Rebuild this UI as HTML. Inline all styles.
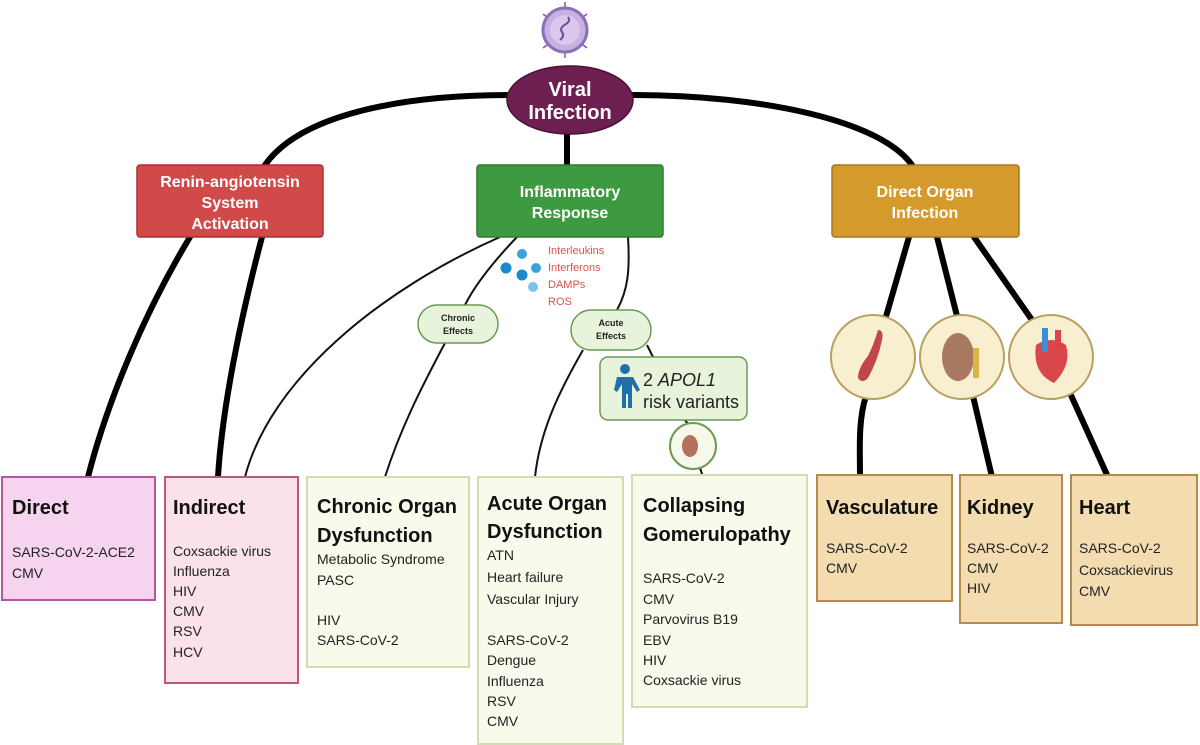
<!DOCTYPE html>
<html><head><meta charset="utf-8"><style>
html,body{margin:0;padding:0;background:#fff;width:1200px;height:745px;overflow:hidden}
svg{display:block}
text{font-family:"Liberation Sans",sans-serif}
.t{font-size:20px;font-weight:bold;fill:#111}
.c{font-size:14px;fill:#222}
.w{font-size:16px;font-weight:bold;fill:#fff}
</style></head><body>
<svg width="1200" height="745" viewBox="0 0 1200 745" xmlns="http://www.w3.org/2000/svg">
<!-- thick connectors -->
<g fill="none" stroke="#000" stroke-width="6" stroke-linecap="round">
<path d="M510 95 C400 95 300 115 265 165"/>
<path d="M632 95 C760 95 880 120 912 165"/>
<path d="M567 130 L567 165"/>
<path d="M190 237 C140 320 105 410 88 477"/>
<path d="M262 237 C240 320 222 410 218 477"/>
<path d="M909 237 L885 320"/>
<path d="M937 237 L958 320"/>
<path d="M974 237 L1032 320"/>
<path d="M866 396 C858 420 860 450 860 477"/>
<path d="M973 396 L992 477"/>
<path d="M1070 393 L1108 477"/>
</g>
<!-- thin connectors -->
<g fill="none" stroke="#111" stroke-width="2">
<path d="M500 237 C380 290 270 380 245 477"/>
<path d="M517 237 C495 260 475 285 465 305"/>
<path d="M445 343 C420 390 400 430 385 477"/>
<path d="M628 237 C630 270 628 290 617 310"/>
<path d="M583 350 C560 390 540 430 535 477"/>
<path d="M647 345 L653 357"/>
<path d="M685 420 L688 424"/>
<path d="M700 468 L703 477"/>
</g>
<!-- virus -->
<g stroke="#7a5aa8" stroke-width="1.5">
<line x1="565" y1="2" x2="565" y2="58"/><line x1="543" y1="14" x2="587" y2="48"/><line x1="587" y1="14" x2="543" y2="48"/>
</g>
<circle cx="565" cy="30" r="22" fill="#c7b1e0" stroke="#8d6fb8" stroke-width="3"/>
<circle cx="565" cy="30" r="15" fill="#d9c8ec"/>
<path d="M560 40 q5 -4 2 -8 q-3 -4 4 -8 q5 -3 2 -7" fill="none" stroke="#6c4f97" stroke-width="2"/>
<!-- ellipse -->
<ellipse cx="570" cy="100" rx="63" ry="34" fill="#6e1f52" stroke="#4a1237" stroke-width="1.5"/>
<text x="570" y="96" text-anchor="middle" style="font-size:20px;font-weight:bold;fill:#fff">Viral</text>
<text x="570" y="119" text-anchor="middle" style="font-size:20px;font-weight:bold;fill:#fff">Infection</text>
<!-- top boxes -->
<rect x="137" y="165" width="186" height="72" rx="3" fill="#d04a4a" stroke="#a83232" stroke-width="1.5"/>
<text x="230" y="187" text-anchor="middle" class="w">Renin-angiotensin</text>
<text x="230" y="208" text-anchor="middle" class="w">System</text>
<text x="230" y="229" text-anchor="middle" class="w">Activation</text>
<rect x="477" y="165" width="186" height="72" rx="3" fill="#3e9a40" stroke="#2f7a31" stroke-width="1.5"/>
<text x="570" y="197" text-anchor="middle" class="w">Inflammatory</text>
<text x="570" y="218" text-anchor="middle" class="w">Response</text>
<rect x="832" y="165" width="187" height="72" rx="3" fill="#d49a2c" stroke="#a87621" stroke-width="1.5"/>
<text x="925" y="197" text-anchor="middle" class="w">Direct Organ</text>
<text x="925" y="218" text-anchor="middle" class="w">Infection</text>
<!-- dots & labels -->
<circle cx="522" cy="254" r="5" fill="#3aa3dc"/><circle cx="506" cy="268" r="5.5" fill="#1a88cc"/>
<circle cx="522" cy="275" r="5.5" fill="#1a88cc"/><circle cx="536" cy="268" r="5" fill="#3aa3dc"/>
<circle cx="533" cy="287" r="5" fill="#7cc3ea"/>
<g style="font-size:11px;fill:#d9534f">
<text x="548" y="254">Interleukins</text><text x="548" y="271">Interferons</text>
<text x="548" y="288">DAMPs</text><text x="548" y="305">ROS</text></g>
<!-- pills -->
<rect x="418" y="305" width="80" height="38" rx="19" fill="#e8f3dc" stroke="#6a9a55" stroke-width="1.5"/>
<text x="458" y="321" text-anchor="middle" style="font-size:9px;font-weight:bold;fill:#222">Chronic</text>
<text x="458" y="334" text-anchor="middle" style="font-size:9px;font-weight:bold;fill:#222">Effects</text>
<rect x="571" y="310" width="80" height="40" rx="20" fill="#e8f3dc" stroke="#6a9a55" stroke-width="1.5"/>
<text x="611" y="326" text-anchor="middle" style="font-size:9px;font-weight:bold;fill:#222">Acute</text>
<text x="611" y="339" text-anchor="middle" style="font-size:9px;font-weight:bold;fill:#222">Effects</text>
<!-- APOL1 -->
<rect x="600" y="357" width="147" height="63" rx="8" fill="#e8f3dc" stroke="#6a9a55" stroke-width="1.5"/>
<circle cx="625" cy="369" r="5" fill="#1f6fa8"/>
<path d="M617 377 h16 l7 13 -3 2 -5 -8 v24 h-4 v-14 h-2 v14 h-4 v-24 l-5 8 -3 -2z" fill="#1f6fa8"/>
<text x="643" y="386" style="font-size:18px;fill:#222">2 <tspan font-style="italic">APOL1</tspan></text>
<text x="643" y="408" style="font-size:18px;fill:#222">risk variants</text>
<circle cx="693" cy="446" r="23" fill="#f6f8ea" stroke="#6a9a55" stroke-width="2"/>
<ellipse cx="690" cy="446" rx="8" ry="11" fill="#b5705e"/>
<!-- organ circles -->
<circle cx="873" cy="357" r="42" fill="#f7efcf" stroke="#b8a15e" stroke-width="2"/>
<path d="M878 330 q6 0 4 10 q-4 20 -14 38 q-6 6 -10 0 q0 -10 10 -22 q6 -12 10 -26z" fill="#c0464a"/>
<circle cx="962" cy="357" r="42" fill="#f7efcf" stroke="#b8a15e" stroke-width="2"/>
<ellipse cx="958" cy="357" rx="16" ry="24" fill="#a97860"/>
<rect x="973" y="348" width="6" height="30" fill="#d9b447"/>
<circle cx="1051" cy="357" r="42" fill="#f7efcf" stroke="#b8a15e" stroke-width="2"/>
<path d="M1036 345 q15 -10 30 0 q6 20 -12 38 q-22 -10 -18 -38z" fill="#d9474a"/>
<rect x="1042" y="328" width="6" height="24" fill="#3a8fd8"/>
<rect x="1055" y="330" width="6" height="18" fill="#e0404a"/>
<!-- bottom boxes -->
<rect x="2" y="477" width="153" height="123" fill="#f6d4ef" stroke="#b4589b" stroke-width="2"/>
<text x="12" y="514" class="t">Direct</text>
<text x="12" y="557" class="c">SARS-CoV-2-ACE2</text><text x="12" y="578" class="c">CMV</text>

<rect x="165" y="477" width="133" height="206" fill="#fbe2ea" stroke="#c0587a" stroke-width="2"/>
<text x="173" y="514" class="t">Indirect</text>
<g class="c"><text x="173" y="556">Coxsackie virus</text><text x="173" y="576">Influenza</text><text x="173" y="596">HIV</text><text x="173" y="616">CMV</text><text x="173" y="636">RSV</text><text x="173" y="657">HCV</text></g>

<rect x="307" y="477" width="162" height="190" fill="#f8faeb" stroke="#d2dcb0" stroke-width="2"/>
<text x="317" y="513" class="t">Chronic Organ</text><text x="317" y="542" class="t">Dysfunction</text>
<g class="c"><text x="317" y="564">Metabolic Syndrome</text><text x="317" y="585">PASC</text><text x="317" y="625">HIV</text><text x="317" y="645">SARS-CoV-2</text></g>

<rect x="478" y="477" width="145" height="267" fill="#f8faeb" stroke="#d2dcb0" stroke-width="2"/>
<text x="487" y="510" class="t">Acute Organ</text><text x="487" y="538" class="t">Dysfunction</text>
<g class="c"><text x="487" y="560">ATN</text><text x="487" y="582">Heart failure</text><text x="487" y="604">Vascular Injury</text>
<text x="487" y="645">SARS-CoV-2</text><text x="487" y="665">Dengue</text><text x="487" y="686">Influenza</text><text x="487" y="706">RSV</text><text x="487" y="726">CMV</text></g>

<rect x="632" y="475" width="175" height="232" fill="#f8faeb" stroke="#d2dcb0" stroke-width="2"/>
<text x="643" y="512" class="t">Collapsing</text><text x="643" y="541" class="t">Gomerulopathy</text>
<g class="c"><text x="643" y="583">SARS-CoV-2</text><text x="643" y="604">CMV</text><text x="643" y="624">Parvovirus B19</text><text x="643" y="645">EBV</text><text x="643" y="665">HIV</text><text x="643" y="685">Coxsackie virus</text></g>

<rect x="817" y="475" width="135" height="126" fill="#f3dcb0" stroke="#b58a4a" stroke-width="2"/>
<text x="826" y="514" class="t">Vasculature</text>
<g class="c"><text x="826" y="553">SARS-CoV-2</text><text x="826" y="573">CMV</text></g>

<rect x="960" y="475" width="102" height="148" fill="#f3dcb0" stroke="#b58a4a" stroke-width="2"/>
<text x="967" y="514" class="t">Kidney</text>
<g class="c"><text x="967" y="553">SARS-CoV-2</text><text x="967" y="573">CMV</text><text x="967" y="593">HIV</text></g>

<rect x="1071" y="475" width="126" height="150" fill="#f3dcb0" stroke="#b58a4a" stroke-width="2"/>
<text x="1079" y="514" class="t">Heart</text>
<g class="c"><text x="1079" y="553">SARS-CoV-2</text><text x="1079" y="575">Coxsackievirus</text><text x="1079" y="596">CMV</text></g>
</svg>
</body></html>
